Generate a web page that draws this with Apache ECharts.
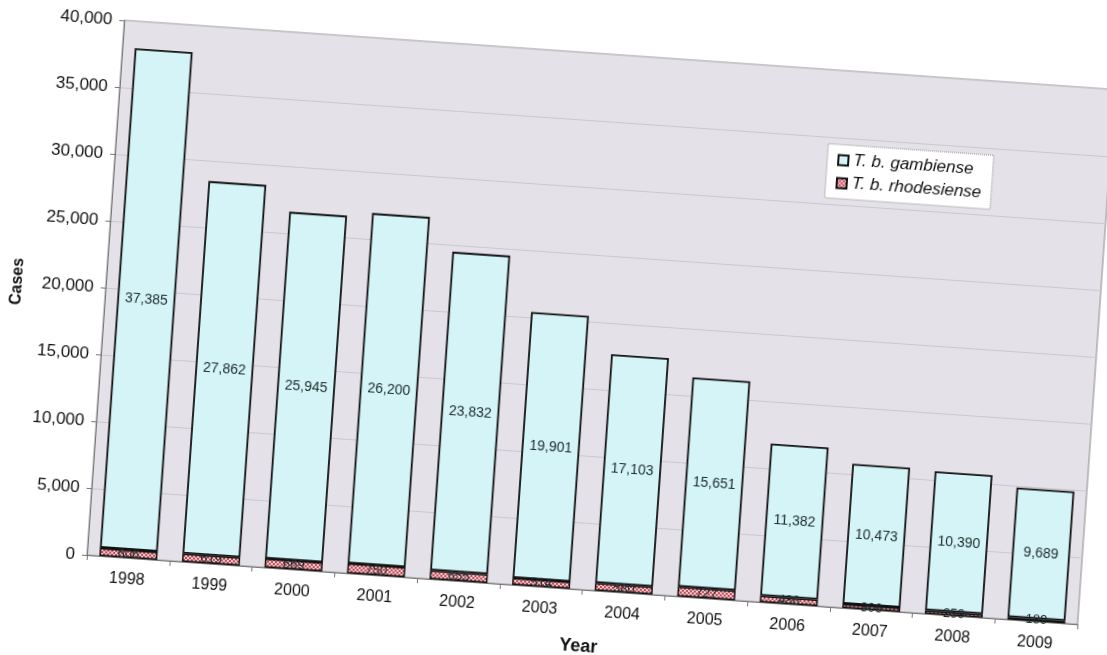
<!DOCTYPE html>
<html>
<head>
<meta charset="utf-8">
<script src="https://cdn.jsdelivr.net/npm/echarts@6/dist/echarts.min.js"></script>
<style>
html,body{margin:0;padding:0;background:#fff;overflow:hidden;width:1107px;height:655px;}
#chart{position:absolute;left:0;top:0;width:1180px;height:700px;transform-origin:553px 327px;transform:rotate(4deg);}
</style>
</head>
<body>
<div id="chart"></div>
<script>
const years = ['1998','1999','2000','2001','2002','2003','2004','2005','2006','2007','2008','2009'];
const gambiense = [37385, 27862, 25945, 26200, 23832, 19901, 17103, 15651, 11382, 10473, 10390, 9689];
const rhodesiense = [606, 619, 669, 750, 655, 514, 580, 727, 486, 306, 259, 189];
const yTicks = [0, 5000, 10000, 15000, 20000, 25000, 30000, 35000, 40000];

function checker(){
  const c = document.createElement('canvas');
  c.width = 4; c.height = 4;
  const g = c.getContext('2d');
  g.fillStyle = '#f2d0d4'; g.fillRect(0,0,4,4);
  g.fillStyle = '#c24a57'; g.fillRect(0,0,2,2); g.fillRect(2,2,2,2);
  return c;
}
const fmt = v => String(v).replace(/\B(?=(\d{3})+(?!\d))/g, ',');

const chart = echarts.init(document.getElementById('chart'), null, {renderer:'canvas'});
chart.setOption({
  animation:false,
  backgroundColor:'#fff',
  textStyle:{fontFamily:'Liberation Sans, Arial, sans-serif'},
  grid:{left:102, top:51, width:995, height:536, show:true, backgroundColor:'#e5e1e8', borderColor:'#8a8a8a', borderWidth:1},
  legend:{
    left:815, top:125, orient:'vertical', itemWidth:10, itemHeight:10, itemGap:6,
    backgroundColor:'#ffffff', borderColor:'#8a8a8a', borderWidth:1, borderType:'dotted', padding:[7,10,7,10],
    textStyle:{fontSize:17, fontStyle:'italic', color:'#111'},
    data:[{name:'T. b. gambiense', icon:'rect'},{name:'T. b. rhodesiense', icon:'rect'}]
  },
  xAxis:{
    type:'category', data:years, name:'Year', nameLocation:'middle', nameGap:48,
    nameTextStyle:{fontSize:18, fontWeight:'bold', color:'#111'},
    axisLine:{lineStyle:{color:'#777'}}, axisTick:{show:true, lineStyle:{color:'#777'}},
    axisLabel:{fontSize:16, color:'#111', margin:14}
  },
  yAxis:{
    type:'value', min:0, max:40000, interval:5000, name:'Cases', nameLocation:'middle', nameGap:80,
    nameTextStyle:{fontSize:16, fontWeight:'bold', color:'#111'},
    axisLine:{show:true, lineStyle:{color:'#777'}}, axisTick:{show:true, lineStyle:{color:'#777'}},
    axisLabel:{fontSize:17, color:'#111', margin:12, formatter:v => yTicks.includes(v) ? fmt(v) : ''},
    splitLine:{lineStyle:{color:'#cbc7cf', width:1}}
  },
  series:[
    {name:'T. b. rhodesiense', type:'bar', stack:'t', data:rhodesiense, barWidth:58,
     itemStyle:{color:{image:checker(), repeat:'repeat'}, borderColor:'#111', borderWidth:1.5},
     label:{show:true, position:'inside', fontSize:13, color:'#1c2b2e', formatter:p => fmt(p.value)}},
    {name:'T. b. gambiense', type:'bar', stack:'t', data:gambiense, barWidth:58,
     itemStyle:{color:'#d5f4f7', borderColor:'#111', borderWidth:1.8},
     label:{show:true, position:'inside', fontSize:14, color:'#1c2b2e', formatter:p => fmt(p.value)}}
  ]
});
</script>
</body>
</html>
